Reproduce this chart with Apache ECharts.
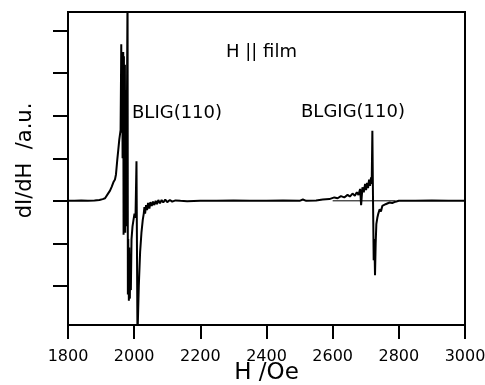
<!DOCTYPE html>
<html>
<head>
<meta charset="utf-8">
<script src="https://cdn.jsdelivr.net/npm/echarts@6/dist/echarts.min.js"></script>
<style>
  html, body { margin: 0; padding: 0; background: #fff; }
  #chart { width: 485px; height: 385px; }
</style>
</head>
<body>
<div id="chart"></div>
<script>
// field (Oe) and derivative signal (a.u.)
var hField = [1800, 1820, 1840, 1860, 1880, 1895, 1905, 1912, 1917, 1922, 1927, 1932, 1935, 1938, 1942, 1945, 1949, 1952, 1955, 1957,
  1959, 1961, 1962, 1964, 1965, 1967, 1968, 1969, 1970, 1972, 1973, 1975, 1976, 1978, 1980, 1981, 1982, 1984, 1985, 1987,
  1988, 1990, 1992, 1995, 1998, 2001, 2004, 2007, 2010, 2014, 2018, 2022, 2026, 2029, 2031, 2033, 2036, 2039, 2042, 2046,
  2049, 2053, 2057, 2061, 2065, 2069, 2073, 2078, 2083, 2088, 2094, 2100, 2108, 2115, 2125, 2140, 2160, 2200, 2250, 2300,
  2350, 2400, 2450, 2500, 2510, 2520, 2550, 2570, 2590, 2605, 2615, 2625, 2635, 2645, 2652, 2660, 2667, 2673, 2678, 2683,
  2686, 2690, 2694, 2698, 2701, 2704, 2707, 2710, 2713, 2716, 2718, 2720, 2722, 2724, 2726, 2728, 2730, 2732, 2735, 2738,
  2742, 2746, 2750, 2755, 2760, 2766, 2772, 2780, 2790, 2800, 2850, 2900, 2950, 3000];
var dIdH = [0.0, 0.0, 0.01, 0.0, 0.01, 0.02, 0.04, 0.06, 0.1, 0.18, 0.24, 0.33, 0.3, 0.45, 0.5, 0.62, 0.97, 1.2, 1.44, 1.4,
  1.67, 3.68, 1.6, 3.0, 1.0, 3.5, -0.8, 3.4, 0.2, 3.2, -0.75, 2.6, -0.6, 2.0, 5.0, -2.2, -0.9, -2.35, -1.1, -2.3,
  -1.3, -2.1, -0.9, -0.6, -0.45, -0.3, -0.4, 0.93, -3.2, -2.0, -1.2, -0.75, -0.45, -0.3, -0.15, -0.3, -0.1, -0.22, -0.05, -0.18,
  -0.03, -0.12, -0.02, -0.1, 0.0, -0.08, 0.02, -0.06, 0.02, -0.04, 0.03, -0.03, 0.02, -0.02, 0.01, 0.0, -0.01, 0.0, 0.0, 0.01,
  0.0, 0.0, 0.01, 0.0, 0.03, 0.0, 0.01, 0.03, 0.04, 0.08, 0.06, 0.11, 0.08, 0.14, 0.1, 0.17, 0.12, 0.2, 0.14, 0.28,
  -0.1, 0.32, 0.2, 0.4, 0.25, 0.42, 0.3, 0.5, 0.35, 0.55, 0.4, 1.65, 0.0, -1.4, -0.9, -1.75, -1.0, -0.55, -0.4, -0.3,
  -0.2, -0.25, -0.12, -0.15, -0.08, -0.1, -0.04, -0.05, -0.02, 0.0, 0.0, 0.01, 0.0, 0.0];
// thin zero trace visible under the second resonance
var zeroSegH = [2600, 2790];
var zeroSegV = [0, 0];

var yTicks = [-2, -1, 0, 1, 2, 3, 4];

var chart = echarts.init(document.getElementById('chart'));

function pairs(xs, ys) {
  return xs.map(function (x, i) { return [x, ys[i]]; });
}

var font = '"DejaVu Sans", sans-serif';

var option = {
  animation: false,
  backgroundColor: '#fff',
  grid: {
    left: 68, right: 20, top: 12, bottom: 60,
    outerBoundsMode: 'none',
    containLabel: false,
    show: true, borderColor: '#000', borderWidth: 2
  },
  xAxis: {
    type: 'value',
    min: 1800, max: 3000, interval: 200,
    name: 'H /Oe',
    nameLocation: 'middle',
    nameGap: 37,
    nameMoveOverlap: false,
    nameTextStyle: { fontSize: 23, color: '#000', fontFamily: font },
    axisLine: { show: true, onZero: false, lineStyle: { color: '#000', width: 2 } },
    axisTick: { show: true, inside: false, length: 14, lineStyle: { color: '#000', width: 2 } },
    axisLabel: { show: true, margin: 24, fontSize: 16, color: '#000', fontFamily: font,
      formatter: function (v) { return String(v); } },
    splitLine: { show: false }
  },
  yAxis: {
    type: 'value',
    min: -2.92, max: 4.44,
    name: 'dI/dH  /a.u.',
    nameLocation: 'middle',
    nameGap: 32,
    nameRotate: 90,
    nameMoveOverlap: false,
    nameTextStyle: { fontSize: 21, color: '#000', fontFamily: font, padding: [0, 0, 0, 16] },
    axisLine: { show: true, onZero: false, lineStyle: { color: '#000', width: 2 } },
    axisTick: { show: true, inside: false, length: 15, lineStyle: { color: '#000', width: 2 },
      customValues: yTicks },
    axisLabel: { show: false },
    splitLine: { show: false }
  },
  graphic: [
    { type: 'text', left: 226, top: 43,
      style: { text: 'H || film', fontSize: 18, fill: '#000', fontFamily: font } },
    { type: 'text', left: 132, top: 104,
      style: { text: 'BLIG(110)', fontSize: 18, fill: '#000', fontFamily: font } },
    { type: 'text', left: 301, top: 103,
      style: { text: 'BLGIG(110)', fontSize: 18, fill: '#000', fontFamily: font } }
  ],
  series: [
    {
      type: 'line',
      data: pairs(zeroSegH, zeroSegV),
      showSymbol: false,
      lineStyle: { color: '#000', width: 1 },
      silent: true
    },
    {
      type: 'line',
      data: pairs(hField, dIdH),
      showSymbol: false,
      clip: true,
      lineStyle: { color: '#000', width: 2 },
      silent: true
    }
  ]
};

chart.setOption(option);
</script>
</body>
</html>
